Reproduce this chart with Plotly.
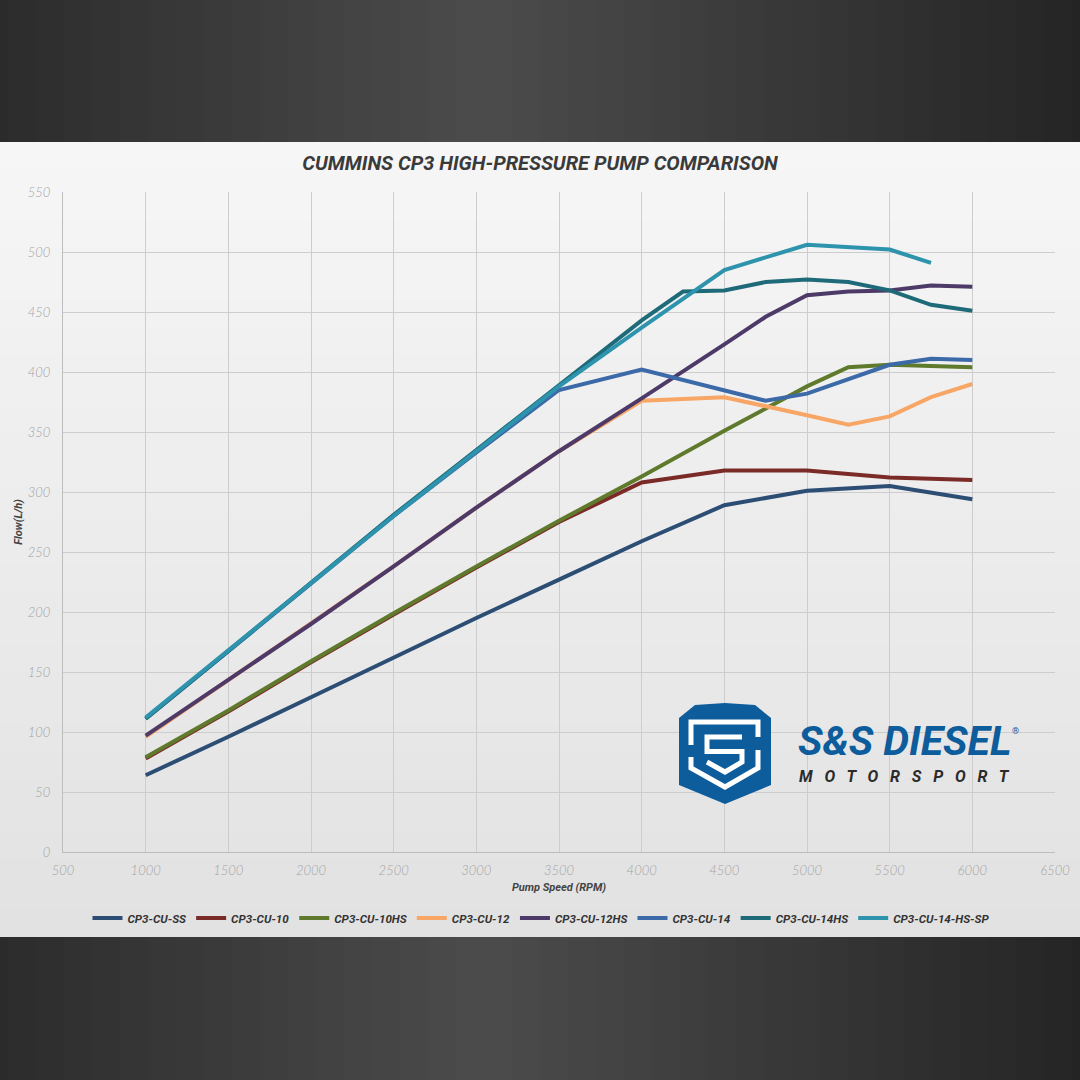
import plotly.graph_objects as go

# ---------------- data ----------------
rpm = [1000, 1500, 2000, 2500, 3000, 3500, 4000, 4250, 4500, 4750, 5000, 5250, 5500, 5750, 6000]
series_names = ["CP3-CU-SS", "CP3-CU-10", "CP3-CU-10HS", "CP3-CU-12",
                "CP3-CU-12HS", "CP3-CU-14", "CP3-CU-14HS", "CP3-CU-14-HS-SP"]
cu_ss     = [64, 96, 129, 162, 195, 227, 259, None, 289, None, 301, None, 305, None, 294]
cu_10     = [78, 117, 158, 198, 237, 275, 308, None, 318, None, 318, None, 312, None, 310]
cu_10hs   = [79, 118, 159, 199, 238, 276, 313, None, 351, None, 388, 404, 406, None, 404]
cu_12     = [96, 143, 190, 238, 287, 334, 376, None, 379, None, 364, 356, 363, 379, 390]
cu_12hs   = [97, 143, 190, 238, 287, 334, 378, None, 423, 446, 464, 467, 468, 472, 471]
cu_14     = [111, 167, 223, 280, 333, 385, 402, None, 385, 376, 382, None, 406, 411, 410]
cu_14hs   = [111, 168, 224, 281, 335, 389, 443, 467, 468, 475, 477, 475, 468, 456, 451]
cu_14hssp = [112, 168, 224, 280, 334, 388, 437, None, 485, None, 506, 504, 502, 491, None]
series_values = [cu_ss, cu_10, cu_10hs, cu_12, cu_12hs, cu_14, cu_14hs, cu_14hssp]
colors = ["#2c4d74", "#7b2b27", "#5f7a2c", "#f8a666", "#4d3a68", "#3c69a7", "#1e6a78", "#2e93ad"]

x_ticks = list(range(500, 7000, 500))
y_ticks = list(range(0, 600, 50))

# ---------------- layout helpers (pixel -> paper) ----------------
L, R, T, B = 63, 1055, 192, 852
def px(x):
    return (x - L) / (R - L)
def py(y):
    return (B - y) / (B - T)

def lerp_col(c1, c2, t):
    a = [int(c1[i:i + 2], 16) for i in (1, 3, 5)]
    b = [int(c2[i:i + 2], 16) for i in (1, 3, 5)]
    return "#%02x%02x%02x" % tuple(round(a[k] + (b[k] - a[k]) * t) for k in range(3))

fig = go.Figure()
for name, vals, col in zip(series_names, series_values, colors):
    fig.add_trace(go.Scatter(x=rpm, y=vals, name=name, mode="lines", connectgaps=True,
                             line=dict(color=col, width=4)))

shapes = []
# dark bands with horizontal gradient
n = 40
for i in range(n):
    x0 = -20 + 1120 * i / n
    x1 = -20 + 1120 * (i + 1) / n + 1
    t = 1 - abs((i + 0.5) / n - 0.45) / 0.55
    t = max(0.0, min(1.0, t))
    col = lerp_col("#232323", "#4c4c4c", t)
    for (ya, yb) in [(-20, 142), (937, 1100)]:
        shapes.append(dict(type="rect", xref="paper", yref="paper", layer="below",
                           x0=px(x0), x1=px(x1), y0=py(yb), y1=py(ya),
                           fillcolor=col, line=dict(width=0)))
# card gradient (vertical)
m = 30
for i in range(m):
    y0 = 142 + (937 - 142) * i / m
    y1 = 142 + (937 - 142) * (i + 1) / m + 1
    col = lerp_col("#f6f6f6", "#e2e2e2", i / (m - 1))
    shapes.append(dict(type="rect", xref="paper", yref="paper", layer="below",
                       x0=px(-20), x1=px(1100), y0=py(min(y1, 937)), y1=py(y0),
                       fillcolor=col, line=dict(width=0)))

# logo shield
def path(points, close=True):
    s = "M " + " L ".join("%.5f,%.5f" % (px(a), py(b)) for a, b in points)
    return s + (" Z" if close else "")

shield = [(695, 705), (725, 703), (755, 705), (771, 718), (771, 785), (725, 804),
          (679, 785), (679, 718)]
shapes.append(dict(type="path", xref="paper", yref="paper", path=path(shield),
                   fillcolor="#0d5c9c", line=dict(width=0)))
# inner white strokes
frame_top = [(691, 745), (691, 722), (758, 722), (758, 737)]
frame_bottom = [(758, 750), (758, 768), (725, 787), (691, 768), (691, 757)]
s_shape = [(742, 737), (707, 737), (707, 751.5), (742, 751.5), (742, 762), (725, 772),
           (707, 762)]
for pts in (frame_top, frame_bottom, s_shape):
    shapes.append(dict(type="path", xref="paper", yref="paper", path=path(pts, close=False),
                       fillcolor="rgba(0,0,0,0)", line=dict(color="white", width=5)))

annotations = [
    dict(text="S&S DIESEL", x=px(904), y=py(766), xref="paper", yref="paper", showarrow=False,
         font=dict(family="Roboto", size=41, color="#0d5c9c", weight="bold", style="italic"),
         xanchor="center", yanchor="bottom", borderpad=0),
    dict(text="®", x=px(1015), y=py(731), xref="paper", yref="paper", showarrow=False,
         font=dict(family="Roboto", size=9, color="#0d5c9c"), xanchor="center", yanchor="middle"),
    dict(text="M   O   T   O   R   S   P   O   R   T", x=px(904), y=py(766), xref="paper", yref="paper",
         showarrow=False,
         font=dict(family="Roboto", size=16, color="#2b2b2b", weight="bold", style="italic"),
         xanchor="center", yanchor="top", borderpad=0),
]

fig.update_layout(
    width=1080, height=1080,
    margin=dict(l=L, r=1080 - R, t=T, b=1080 - B, autoexpand=False),
    paper_bgcolor="#3a3a3a", plot_bgcolor="rgba(0,0,0,0)",
    title=dict(text="CUMMINS CP3 HIGH-PRESSURE PUMP COMPARISON", x=px(540), xref="paper",
               xanchor="center", y=1 - 163 / 1080, yanchor="middle",
               font=dict(family="Roboto", size=20, color="#3a3a3a", weight="bold", style="italic")),
    xaxis=dict(range=[500, 6500], tickvals=x_ticks, ticktext=[str(v) for v in x_ticks],
               showgrid=True, gridcolor="#cdcdcd", gridwidth=1, zeroline=False,
               showline=True, linecolor="#bdbdbd", linewidth=1, mirror=False, automargin=False,
               ticks="", ticklabelstandoff=6,
               tickfont=dict(family="Lato", size=13, color="#a3a3a3", style="italic", weight=300),
               title=dict(text="Pump Speed (RPM)", standoff=6,
                          font=dict(family="Roboto", size=11, color="#444444",
                                    weight="bold", style="italic"))),
    yaxis=dict(range=[0, 550], tickvals=y_ticks, ticktext=[str(v) for v in y_ticks],
               showgrid=True, gridcolor="#cdcdcd", gridwidth=1, zeroline=False,
               showline=True, linecolor="#bdbdbd", linewidth=1, automargin=False,
               ticks="", ticklabelstandoff=9,
               tickfont=dict(family="Lato", size=13, color="#a3a3a3", style="italic", weight=300),
               title=dict(text="Flow(L/h)", standoff=2,
                          font=dict(family="Roboto", size=11, color="#444444",
                                    weight="bold", style="italic"))),
    showlegend=True,
    legend=dict(orientation="h", x=px(541), xanchor="center", y=py(918), yanchor="middle",
                bgcolor="rgba(0,0,0,0)", itemwidth=30, tracegroupgap=0,
                font=dict(family="Roboto", size=11.6, color="#333333", weight="bold", style="italic")),
    shapes=shapes,
    annotations=annotations,
)

fig.write_html("out.html", config={"displayModeBar": False})

# remove the default page margin so the 1080x1080 figure fills the window exactly
with open("out.html", "r", encoding="utf-8") as f:
    html = f.read()
html = html.replace("<head>", "<head><style>html,body{margin:0;padding:0;overflow:hidden;background:#3a3a3a;}</style>", 1)
with open("out.html", "w", encoding="utf-8") as f:
    f.write(html)
